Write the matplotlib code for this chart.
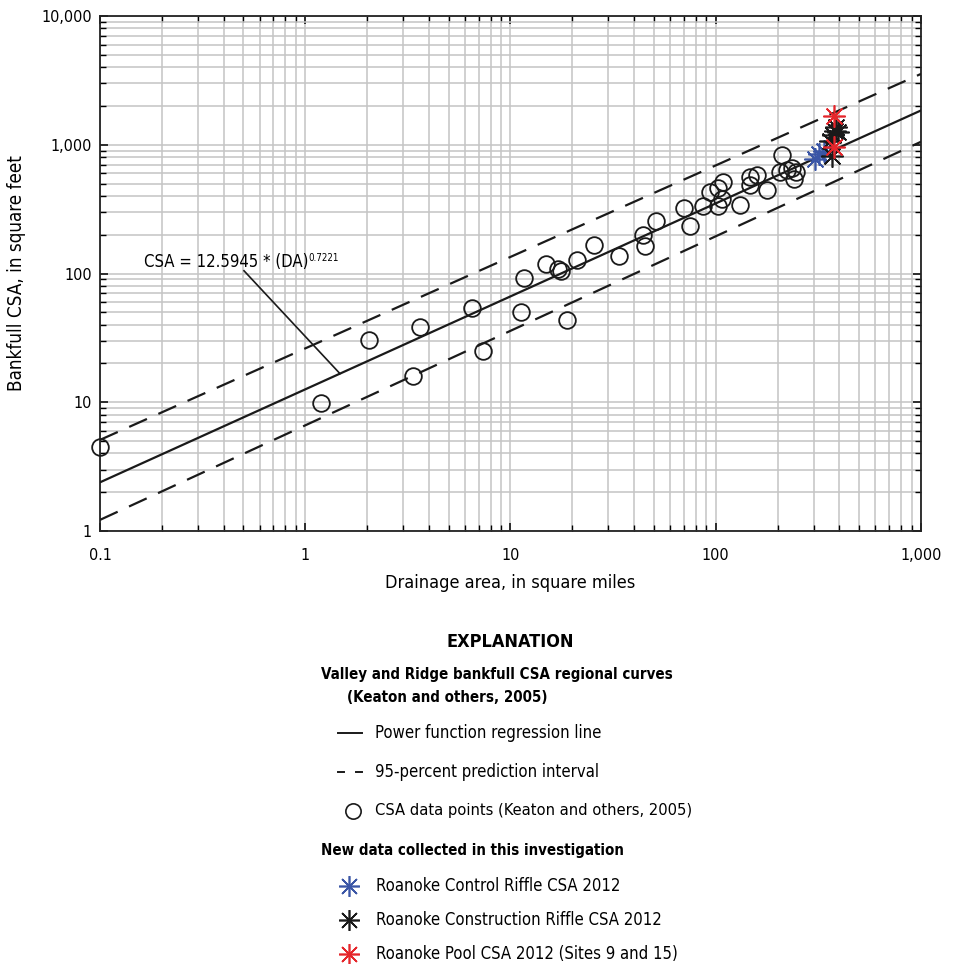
import matplotlib
matplotlib.use("Agg")
import matplotlib.pyplot as plt
import numpy as np
from matplotlib.ticker import FixedLocator, FuncFormatter, NullFormatter

plt.rcParams['font.family'] = ['DejaVu Sans']
plt.rcParams['font.stretch'] = 'condensed'
plt.rcParams['lines.scale_dashes'] = False
plt.rcParams['lines.dashed_pattern'] = [14, 9]

# ---------------- data ----------------
keaton_da = [0.1, 1.19, 2.05, 3.36, 3.62, 6.47, 7.37, 11.2, 11.6, 14.9, 17.1, 17.6,
             18.8, 21.0, 25.4, 33.9, 44.0, 45.2, 51.2, 70.0, 75.0, 86.9, 93.8,
             103, 103, 107, 109, 131, 147, 147, 158, 177, 205, 210, 222, 235, 245, 240]
keaton_csa = [4.5, 9.8, 30.5, 15.9, 38.7, 53.7, 25.2, 50.6, 91.6, 118, 109, 105,
              43.6, 128, 166, 136, 198, 163, 256, 324, 233, 332, 428,
              332, 460, 380, 515, 338, 483, 560, 577, 442, 610, 830, 640, 660, 610, 545]

control_da = [305, 318, 335]
control_csa = [780, 855, 900]

construction_da = [370, 362, 372, 382, 385, 392]
construction_csa = [820, 1060, 1180, 1280, 1380, 1250]

pool_da = [378, 376]
pool_csa = [1660, 960]

reg_coef = 12.5945
reg_exp = 0.7221

pi_da = [0.1, 1000]
pi_upper = [5.1, 3550]
pi_lower = [1.22, 1055]

x_ticks = [0.1, 1, 10, 100, 1000]
x_labels = ['0.1', '1', '10', '100', '1,000']
y_ticks = [1, 10, 100, 1000, 10000]
y_labels = ['1', '10', '100', '1,000', '10,000']

# ---------------- figure ----------------
W, H = 954, 964
fig = plt.figure(figsize=(W / 100, H / 100), dpi=100)
ax = fig.add_axes([100 / W, 1 - 531 / H, 821 / W, 515 / H])
ax.set_xscale('log')
ax.set_yscale('log')
ax.set_xlim(0.1, 1000)
ax.set_ylim(1, 10000)


def nearest_label(v, ticks, labels):
    i = int(np.argmin([abs(np.log10(t) - np.log10(v)) for t in ticks]))
    return labels[i]


minor_x = [m * 10.0 ** e for e in range(-1, 3) for m in range(2, 10)]
minor_y = [m * 10.0 ** e for e in range(0, 4) for m in range(2, 10)]
ax.xaxis.set_major_locator(FixedLocator(x_ticks))
ax.yaxis.set_major_locator(FixedLocator(y_ticks))
ax.xaxis.set_minor_locator(FixedLocator(minor_x))
ax.yaxis.set_minor_locator(FixedLocator(minor_y))
ax.xaxis.set_major_formatter(FuncFormatter(lambda v, p: nearest_label(v, x_ticks, x_labels)))
ax.yaxis.set_major_formatter(FuncFormatter(lambda v, p: nearest_label(v, y_ticks, y_labels)))
ax.xaxis.set_minor_formatter(NullFormatter())
ax.yaxis.set_minor_formatter(NullFormatter())

ax.grid(True, which='both', color='#c4c4c4', linewidth=1.1)
ax.set_axisbelow(True)
ax.tick_params(which='both', direction='in', top=True, right=True, labelsize=11.5,
               colors='black')
ax.tick_params(axis='x', pad=12)
ax.tick_params(axis='y', pad=6)
ax.tick_params(which='major', length=6, width=1.1)
ax.tick_params(which='minor', length=4, width=1.0)
for s in ax.spines.values():
    s.set_linewidth(1.3)
    s.set_color('#222222')

# regression line & prediction interval
xx = np.logspace(-1, 3, 200)
ax.plot(xx, reg_coef * xx ** reg_exp, color='#1a1a1a', lw=1.6, zorder=3)
up_line, = ax.plot(pi_da, pi_upper, '--', color='#1a1a1a', lw=1.6, zorder=3)
lo_line, = ax.plot(pi_da, pi_lower, '--', color='#1a1a1a', lw=1.6, zorder=3)
for ln in (up_line, lo_line):
    ln.set_dashes([14, 9])

# data
ax.plot(keaton_da, keaton_csa, 'o', mfc='none', mec='#1a1a1a', mew=1.3, ms=12, zorder=4, clip_on=False)
star = (8, 2, 0)
ax.plot(control_da, control_csa, ls='none', marker=star, color='#3b56a6', ms=16, mew=1.2, zorder=5)
ax.plot(construction_da, construction_csa, ls='none', marker=star, color='#1a1a1a', ms=16, mew=1.2, zorder=5)
ax.plot(pool_da, pool_csa, ls='none', marker=star, color='#e5262b', ms=16, mew=1.2, zorder=6)

# annotation
t = ax.text(0.163, 112, 'CSA = 12.5945 * (DA)', fontsize=12, va='baseline', ha='left', zorder=6)
ax.annotate('0.7221', xy=(1, 1), xycoords=t, xytext=(0.5, 0), textcoords='offset points',
            fontsize=7, va='top', ha='left')
ax.plot([0.503, 1.476], [105, reg_coef * 1.476 ** reg_exp], color='#1a1a1a', lw=1.2, zorder=5)

ax.set_xlabel('Drainage area, in square miles', fontsize=13, labelpad=8)
ax.set_ylabel('Bankfull CSA, in square feet', fontsize=13.5, labelpad=11)

# ---------------- explanation ----------------
lax = fig.add_axes([0, 0, 1, 1], zorder=-1)
lax.set_xlim(0, W)
lax.set_ylim(H, 0)
lax.axis('off')

lax.text(510, 642, 'EXPLANATION', fontsize=13, fontweight='bold', ha='center', va='center')
lax.text(321, 675, 'Valley and Ridge bankfull CSA regional curves', fontsize=10.8, fontweight='bold', va='center')
lax.text(347, 697, '(Keaton and others, 2005)', fontsize=10.8, fontweight='bold', va='center')

lax.plot([338, 362], [733, 733], color='#1a1a1a', lw=1.4)
lax.text(375, 733, 'Power function regression line', fontsize=12, va='center')
lax.plot([338, 344], [772, 772], color='#1a1a1a', lw=1.4)
lax.plot([356, 362], [772, 772], color='#1a1a1a', lw=1.4)
lax.text(375, 772, '95-percent prediction interval', fontsize=12, va='center')
lax.plot([353], [811], 'o', mfc='none', mec='#1a1a1a', mew=1.2, ms=11)
lax.text(375, 811, 'CSA data points (Keaton and others, 2005)', fontsize=11.8, va='center')

lax.text(321, 851, 'New data collected in this investigation', fontsize=10.8, fontweight='bold', va='center')
lax.plot([349], [886], marker=star, color='#3b56a6', ms=15, mew=1.2)
lax.text(376, 886, 'Roanoke Control Riffle CSA 2012', fontsize=12, va='center')
lax.plot([349], [920], marker=star, color='#1a1a1a', ms=15, mew=1.2)
lax.text(376, 920, 'Roanoke Construction Riffle CSA 2012', fontsize=12, va='center')
lax.plot([349], [954], marker=star, color='#e5262b', ms=15, mew=1.2)
lax.text(376, 954, 'Roanoke Pool CSA 2012 (Sites 9 and 15)', fontsize=12, va='center')

fig.savefig('out.png', dpi=100, facecolor='white')
